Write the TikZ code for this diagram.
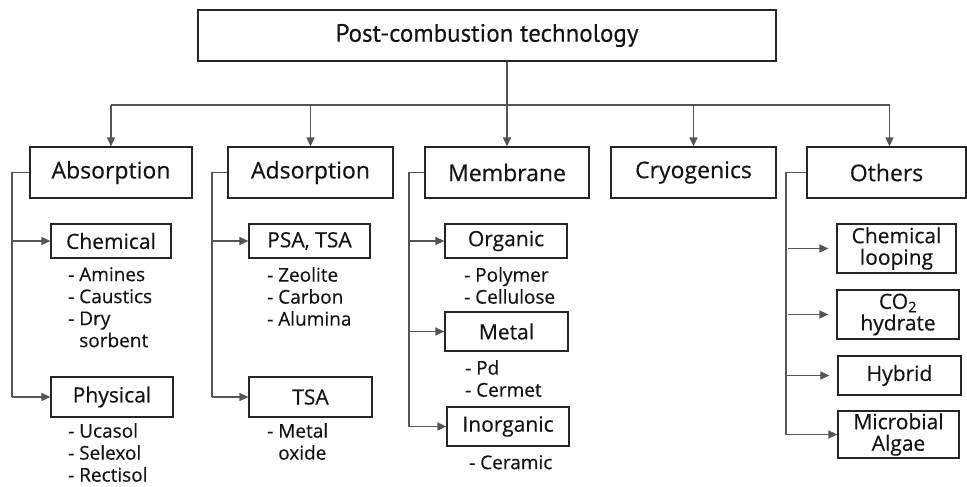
\documentclass[tikz,border=0pt]{standalone}
\usepackage{fontspec}
\setmainfont{Open Sans}[FakeBold=0.4]
\newfontfamily\titlefont{PT Sans}[FakeBold=0.3]
\usetikzlibrary{arrows.meta}
\definecolor{linegray}{HTML}{555555}
\definecolor{txt}{HTML}{141414}
\newcommand\bx[7][]{\node[box,#1,minimum width={#5pt-#3pt},minimum height={#6pt-#4pt}] (#2) at ({(#3+#5)/2},{(#4+#6)/2}) {#7};}
\begin{document}
\begin{tikzpicture}[x=1pt,y=-1pt,
  box/.style={draw=black!85, line width=1.2pt, inner sep=0pt, align=center, text=txt},
  lvtwo/.style={font=\fontsize{23}{26}\selectfont},
  lvthree/.style={font=\fontsize{21}{21.5}\selectfont},
  conn/.style={draw=linegray, line width=1.4pt},
  arr/.style={conn, -{Triangle[length=9pt,width=8pt]}},
  lst/.style={anchor=north west, inner sep=0pt, align=left, text=txt, font=\fontsize{19}{22}\selectfont}
]
\useasboundingbox (0,0) rectangle (967,487);
\bx[font=\titlefont\fontsize{25}{28}\selectfont]{top}{198}{10}{776}{61}{Post-combustion technology}
\bx[lvtwo]{absorp}{30}{147}{192}{198}{Absorption}
\bx[lvtwo]{adsorp}{228}{147}{393}{198}{Adsorption}
\bx[lvtwo]{membr}{425}{147}{589}{198}{Membrane}
\bx[lvtwo]{cryo}{611}{147}{776}{198}{Cryogenics}
\bx[lvtwo]{others}{807}{147}{966}{198}{Others}
\bx[lvthree]{chem}{51}{224}{171}{258}{Chemical}
\bx[lvthree]{phys}{51}{377}{173}{417}{Physical}
\bx[lvthree]{psa}{249}{224}{370}{258}{PSA, TSA}
\bx[lvthree]{tsa}{249}{377}{372}{417}{TSA}
\bx[lvthree]{org}{445}{224}{567}{258}{Organic}
\bx[lvthree]{metal}{445}{312}{568}{351}{Metal}
\bx[lvthree]{inorg}{447}{407}{569}{446}{Inorganic}
\bx[lvthree]{cloop}{837}{224}{956}{273}{Chemical\\looping}
\bx[lvthree]{co2}{837}{290}{959}{339}{CO\textsubscript{2}\\hydrate}
\bx[lvthree]{hybrid}{838}{356}{961}{395}{Hybrid}
\bx[lvthree]{algae}{838}{411}{959}{458}{Microbial\\Algae}
% lists
\node[lst] (chemL) at (68,267) {- Amines\\- Caustics\\- Dry\\\phantom{- }sorbent};
\node[lst] (physL) at (68,423) {- Ucasol\\- Selexol\\- Rectisol};
\node[lst] (psaL) at (267,267) {- Zeolite\\- Carbon\\- Alumina};
\node[lst] (tsaL) at (267,423) {- Metal\\\phantom{- }oxide};
\node[lst] (orgL) at (464,267) {- Polymer\\- Cellulose};
\node[lst] (metalL) at (465,360) {- Pd\\- Cermet};
\node[lst] (inorgL) at (469,455) {- Ceramic};
% connectors
\coordinate (bus) at (507,105);
\coordinate (abx) at (12,0);
\coordinate (adx) at (212,0);
\coordinate (mbx) at (409,0);
\coordinate (otx) at (786,0);
\draw[conn] (bus |- top.south) -- (bus);
\draw[conn] (absorp.north |- bus) -- ([xshift=3pt]others.north |- bus);
\foreach \n in {absorp,adsorp,membr,cryo}
  \draw[arr] (\n.north |- bus) -- (\n.north);
\draw[arr] ([xshift=3pt]others.north |- bus) -- ([xshift=3pt]others.north);
% absorption branch
\draw[conn] (absorp.west) -| (abx |- phys.west);
\draw[arr] (abx |- chem.west) -- (chem.west);
\draw[arr] (abx |- phys.west) -- (phys.west);
% adsorption branch
\draw[conn] (adsorp.west) -| (adx |- tsa.west);
\draw[arr] (adx |- psa.west) -- (psa.west);
\draw[arr] (adx |- tsa.west) -- (tsa.west);
% membrane branch
\draw[conn] (membr.west) -| (mbx |- inorg.west);
\draw[arr] (mbx |- org.west) -- (org.west);
\draw[arr] (mbx |- metal.west) -- (metal.west);
\draw[arr] (mbx |- inorg.west) -- (inorg.west);
% others branch
\draw[conn] (others.west) -| (otx |- algae.west);
\draw[arr] ([xshift=2pt]otx |- cloop.west) -- ([xshift=-8pt]cloop.west);
\draw[arr] ([xshift=2pt]otx |- co2.west) -- ([xshift=-8pt]co2.west);
\draw[arr] (otx |- hybrid.west) -- ([xshift=-8pt]hybrid.west);
\draw[arr] (otx |- algae.west) -- (algae.west);
\end{tikzpicture}
\end{document}
